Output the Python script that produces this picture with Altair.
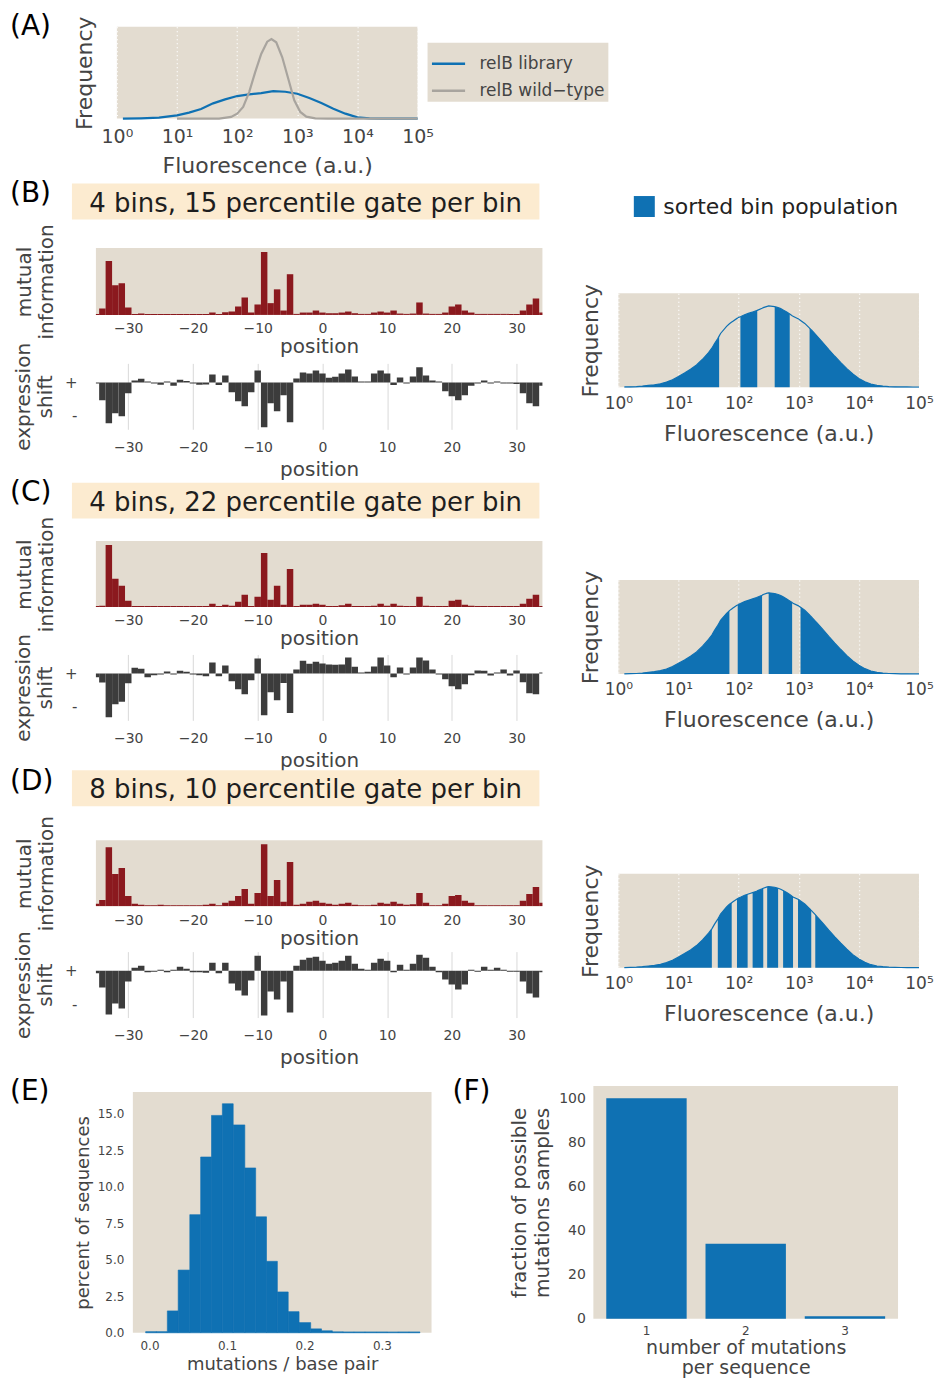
import altair as alt
import pandas as pd

FONT = "DejaVu Sans"
BG = "#E3DCD0"
BLUE = "#0F71B3"
RED = "#8B191E"
DARK = "#3C3C3C"
PEACH = "#FCEBD0"
WT = "#A8A49E"
TXT = "#444444"

# ---------------- data ----------------
# (A) fluorescence distributions, x = log10(fluorescence)
lib_lx = [0.1, 0.4, 0.7, 1.0, 1.2, 1.4, 1.6, 1.8, 2.0, 2.2, 2.4, 2.6, 2.8, 3.0, 3.2, 3.4, 3.6, 3.8, 4.0, 4.2, 4.4, 5.0]
lib_h = [0, 1, 3, 10, 18, 29, 46, 58, 68, 73, 77, 83, 81, 75, 62, 47, 30, 15, 4, 1, 0, 0]
wt_lx = [1.0, 1.7, 1.9, 2.0, 2.1, 2.2, 2.3, 2.4, 2.5, 2.57, 2.65, 2.75, 2.85, 2.95, 3.05, 3.15, 3.3, 3.5, 5.0]
wt_h = [0, 0, 5, 15, 35, 80, 140, 195, 232, 240, 230, 185, 120, 55, 20, 6, 1, 0, 0]
series_names = ["relB library", "relB wild\u2212type"]

# sorted library histogram (B-D), x = log10(fluorescence)
hist_lx = [0.1, 0.2, 0.3, 0.4, 0.5, 0.6, 0.7, 0.8, 0.9, 1.0, 1.1, 1.2, 1.3, 1.4, 1.5, 1.555, 1.6, 1.654,
           1.676, 1.7, 1.8, 1.847, 1.885, 1.9, 1.973, 1.985, 2.0, 2.03, 2.1, 2.15, 2.2, 2.233, 2.3, 2.31,
           2.39, 2.4, 2.41, 2.475, 2.5, 2.6, 2.657, 2.7, 2.74, 2.8, 2.85, 2.89, 2.9, 2.905, 2.988, 3.0,
           3.03, 3.1, 3.18, 3.2, 3.208, 3.275, 3.3, 3.4, 3.5, 3.6, 3.7, 3.8, 3.9, 4.0, 4.1, 4.2, 4.3,
           4.4, 4.5, 4.6, 4.7, 4.8, 4.9, 5.0]
hist_h = [0.5, 1, 1.5, 3, 5, 7, 10, 15, 22, 32, 42, 53, 66, 83, 103, 116, 130, 145,
          152, 160, 181, 189, 194, 196, 205, 206, 208, 210, 216, 219, 222, 224, 228, 229,
          235, 236, 237, 241, 242, 240, 237, 234, 230, 224, 218, 213, 212, 211, 204, 203,
          199, 190, 176, 172, 171, 158, 153, 133, 112, 92, 73, 55, 39, 26, 16, 9, 5,
          3, 1.5, 1, 0.6, 0.5, 0.4, 0.4]
assert len(hist_lx) == len(hist_h)

gates_b = [(0.1, 1.676), (2.03, 2.31), (2.6, 2.85), (3.18, 5.0)]
gates_c = [(0.1, 1.847), (1.985, 2.39), (2.5, 2.89), (3.03, 5.0)]
gates_d = [(0.1, 1.555), (1.654, 1.885), (1.973, 2.15), (2.233, 2.41), (2.475, 2.657),
           (2.74, 2.905), (2.988, 3.208), (3.275, 5.0)]

positions = list(range(-35, 35))
mi_b = [3, 19, 160, 88, 94, 22, 3, 4, 3, 3, 3, 3, 3, 3, 3, 3, 3, 3, 7, 3,
        8, 10, 25, 52, 7, 31, 187, 35, 76, 13, 121, 3, 7, 7, 13,
        7, 5, 5, 7, 10, 5, 3, 3, 7, 10, 7, 13, 4, 3, 4, 37, 4, 3, 3, 7,
        25, 31, 13, 7, 3, 3, 3, 3, 3, 3, 3, 13, 31, 49, 7]
mi_c = [3, 4, 187, 85, 64, 19, 3, 3, 3, 3, 3, 3, 3, 3, 3, 3, 3, 3, 10, 3,
        7, 4, 16, 37, 3, 31, 163, 22, 64, 7, 115, 3, 7, 7, 10,
        7, 3, 3, 5, 10, 3, 3, 3, 4, 10, 4, 10, 4, 3, 3, 31, 4, 3, 3, 3,
        19, 22, 7, 4, 3, 3, 3, 3, 3, 3, 3, 10, 25, 37, 3]
mi_d = [7, 19, 178, 97, 115, 31, 7, 4, 3, 3, 4, 3, 3, 3, 3, 3, 3, 4, 7, 3,
        10, 16, 31, 52, 7, 40, 187, 31, 79, 13, 133, 4, 7, 13, 16,
        10, 7, 4, 7, 10, 4, 3, 3, 4, 10, 7, 13, 7, 4, 6, 40, 10, 3, 3, 7,
        31, 34, 16, 10, 3, 3, 3, 3, 3, 3, 3, 16, 37, 58, 10]
exp_b = [-3, -53, -122, -92, -101, -32, 6, 11, 3, -3, -7, 3, -10, 8, 4, -3, -7, -6, 24, -8,
         21, -29, -56, -71, -29, 36, -134, -62, -86, -38, -119, 12, 30, 27, 36,
         27, 14, 17, 27, 39, 18, 3, 3, 27, 36, 27, -8, 15, -3, 18, 45, 21, 6, 3, -26,
         -41, -53, -38, -10, -3, 6, -3, 3, -3, -3, -5, -32, -62, -71, -10]
exp_c = [-11, -27, -131, -92, -84, -29, 17, 14, -11, -5, -3, 6, -3, 8, 5, -3, -5, -8, 33, -8,
         24, -23, -47, -62, -20, 45, -125, -56, -80, -28, -118, 12, 38, 29, 35,
         30, 27, 26, 27, 48, 20, 3, 5, 21, 48, 24, -11, 18, -3, 18, 48, 39, 12, -3, -17,
         -38, -47, -32, -5, 9, 8, -6, 3, 12, -6, 9, -26, -59, -62, 3]
exp_d = [-8, -50, -131, -98, -113, -32, 9, 15, -5, -3, 3, -5, 3, 12, 6, -5, -5, -6, 24, -8,
         24, -38, -59, -74, -29, 45, -134, -62, -86, -32, -125, 15, 33, 39, 42,
         30, 21, 24, 30, 45, 21, 6, 3, 24, 36, 30, -5, 18, 3, 21, 48, 39, 12, -5, -26,
         -41, -56, -41, 3, -3, 12, 3, 9, 3, -3, -3, -32, -68, -80, -5]

# (E) mutation rate histogram
e_edges = [-0.005, 0.009, 0.023, 0.037, 0.052, 0.066, 0.080, 0.094, 0.108, 0.123, 0.137, 0.151,
           0.165, 0.179, 0.193, 0.208, 0.222, 0.236, 0.250, 0.264, 0.278, 0.293, 0.307, 0.321,
           0.335, 0.349]
e_pct = [0.08, 0.08, 1.5, 4.3, 8.1, 12.05, 14.9, 15.7, 14.25, 11.3, 7.95, 4.9, 2.8, 1.45,
         0.7, 0.27, 0.14, 0.07, 0.06, 0.06, 0.06, 0.06, 0.06, 0.06, 0.06]

# (F) fraction of possible mutations sampled
f_n = ["1", "2", "3"]
f_frac = [100, 34, 1.2]

titles = ["4 bins, 15 percentile gate per bin", "4 bins, 22 percentile gate per bin",
          "8 bins, 10 percentile gate per bin"]

# ---------------- layout constants (spacings) ----------------
pA, sA, sE = 16, 3, 10.5
p2, pLR, pm = 1, 37, -60
t_vals = [3.5, -2.5, 9]
m_vals = [-14.5, -15.5, -17.5]
sBC, sCD = -0.6, -3.4
hTop, hBC, hCD = 98.8, 126, 133
pE, pEF, sEy = 16, 21, 5

SUP = "'10' + ['\u2070','\u00b9','\u00b2','\u00b3','\u2074','\u2075'][datum.value]"


def spacer(w, h):
    return alt.Chart(pd.DataFrame({"v": [0]})).mark_rect(opacity=0).encode(
        x=alt.value(0), x2=alt.value(1), y=alt.value(0), y2=alt.value(1)
    ).properties(width=w, height=h)


def label_text(text, x, y):
    return alt.Chart(pd.DataFrame({"t": [text]})).mark_text(
        font=FONT, fontSize=28, align="left", baseline="alphabetic", color="black"
    ).encode(x=alt.value(x), y=alt.value(y), text="t:N")


def log_axis(lsize, tsize, lp, tp):
    return alt.Axis(values=[0, 1, 2, 3, 4, 5], labelExpr=SUP, title="Fluorescence (a.u.)",
                    grid=True, gridColor="white", gridDash=[1, 3], gridWidth=1.3,
                    labelFontSize=lsize, labelPadding=lp, titleFontSize=tsize, titlePadding=tp)


def freq_axis(tp, tsize=22):
    return alt.Axis(title="Frequency", labels=False, grid=False, titleFontSize=tsize, titlePadding=tp)


def pos_axis(lp, tp, grid):
    return alt.Axis(values=[-30, -20, -10, 0, 10, 20, 30], title="position", labelFontSize=14,
                    titleFontSize=20, labelPadding=lp, titlePadding=tp, grid=grid,
                    gridColor="#D9D9D9", gridWidth=1)


# ---------------- (A) ----------------
a_df = pd.concat([
    pd.DataFrame({"lx": lib_lx, "h": lib_h, "series": series_names[0]}),
    pd.DataFrame({"lx": wt_lx, "h": wt_h, "series": series_names[1]}),
])
a_lines = alt.Chart(a_df).mark_line(strokeWidth=2.2).encode(
    x=alt.X("lx:Q", scale=alt.Scale(domain=[0, 5], nice=False, zero=False), axis=log_axis(19, 22, 9, 9)),
    y=alt.Y("h:Q", scale=alt.Scale(domain=[0, 277], nice=False), axis=freq_axis(20)),
    color=alt.Color("series:N",
                    scale=alt.Scale(domain=series_names, range=[BLUE, WT]),
                    legend=alt.Legend(orient="none", legendX=420, legendY=16, title=None, fillColor=BG,
                                      padding=3, symbolType="stroke", symbolSize=1100,
                                      symbolStrokeWidth=2.5, labelFontSize=17, labelColor=TXT,
                                      labelOffset=13, rowPadding=1, labelLimit=300)),
)
a_chart = a_lines.properties(width=301, height=92, view=alt.ViewBackground(fill=BG, stroke="transparent"))
labA = label_text("(A)", 2, 8).properties(width=50, height=1)
R1 = alt.hconcat(labA, a_chart, spacing=pA)


# ---------------- (B)-(D) ----------------
def title_chart(text, plabel, laby):
    txt = alt.Chart(pd.DataFrame({"t": [text]})).mark_text(
        font=FONT, fontSize=26, align="center", baseline="alphabetic", color="#1E1E1E"
    ).encode(x=alt.value(234), y=alt.value(28), text="t:N")
    return alt.layer(txt, label_text(plabel, -62, laby)).properties(
        width=468, height=36, view=alt.ViewBackground(fill=PEACH, stroke="transparent"))


def mi_chart(vals, h):
    df = pd.DataFrame({"pos": positions, "v": vals})
    return alt.Chart(df).transform_calculate(x0="datum.pos - 0.5", x1="datum.pos + 0.5").mark_bar(
        color=RED, clip=True).encode(
        x=alt.X("x0:Q", scale=alt.Scale(domain=[-35, 34], nice=False, zero=False), axis=pos_axis(7, 1, False)),
        x2="x1:Q",
        y=alt.Y("v:Q", scale=alt.Scale(domain=[0, 199], nice=False),
                axis=alt.Axis(title=["mutual", "information"], labels=False, grid=False,
                              titleFontSize=20, titlePadding=39, titleLineHeight=22)),
        y2=alt.datum(0),
    ).properties(width=447, height=h, view=alt.ViewBackground(fill=BG, stroke="transparent"))


def exp_chart(vals):
    df = pd.DataFrame({"pos": positions, "v": vals})
    return alt.Chart(df).transform_calculate(x0="datum.pos - 0.5", x1="datum.pos + 0.5").mark_bar(
        color=DARK, clip=True).encode(
        x=alt.X("x0:Q", scale=alt.Scale(domain=[-35, 34], nice=False, zero=False), axis=pos_axis(11, 5, True)),
        x2="x1:Q",
        y=alt.Y("v:Q", scale=alt.Scale(domain=[-140, 57], nice=False),
                axis=alt.Axis(values=[0, -100], labelExpr="datum.value >= 0 ? '+' : '-'", grid=False,
                              labelFontSize=15, labelPadding=19, labelBaseline="middle",
                              title=["expression", "shift"], titleFontSize=20, titlePadding=9,
                              titleLineHeight=22)),
        y2=alt.datum(0),
    ).properties(width=447, height=66, view=alt.ViewBackground(fill="transparent", stroke="transparent"))


def hist_chart(gates, with_legend):
    rows = []
    for gi, (lo, hi) in enumerate(gates):
        for lx, h in zip(hist_lx, hist_h):
            if lo - 1e-9 <= lx <= hi + 1e-9:
                rows.append({"lx": lx, "h": h, "gate": gi, "pop": "sorted bin population"})
    gdf = pd.DataFrame(rows)
    cdf = pd.DataFrame({"lx": hist_lx, "h": hist_h})
    x = alt.X("lx:Q", scale=alt.Scale(domain=[0, 5], nice=False, zero=False), axis=log_axis(17, 22, 8, 12))
    y = alt.Y("h:Q", scale=alt.Scale(domain=[0, 280], nice=False), axis=freq_axis(16), stack=None)
    if with_legend:
        area = alt.Chart(gdf).mark_area(opacity=1).encode(
            x=x, y=y, detail="gate:N",
            fill=alt.Fill("pop:N", scale=alt.Scale(range=[BLUE]),
                          legend=alt.Legend(orient="none", legendX=626, legendY=169, title=None,
                                            symbolType="square", symbolSize=441, symbolStrokeWidth=0,
                                            symbolOpacity=1, labelFontSize=22, labelColor="#222222",
                                            labelOffset=8, padding=0, labelLimit=400)))
    else:
        area = alt.Chart(gdf).mark_area(color=BLUE, opacity=1).encode(x=x, y=y, detail="gate:N")
    line = alt.Chart(cdf).mark_line(color=BLUE, strokeWidth=1.2).encode(x="lx:Q", y="h:Q")
    return alt.layer(area, line).properties(width=301, height=94,
                                            view=alt.ViewBackground(fill=BG, stroke="transparent"))


panels = []
for i, (tt, pl, ly, mi, ex) in enumerate(zip(titles, ["(B)", "(C)", "(D)"], [18, 18, 20],
                                              [mi_b, mi_c, mi_d], [exp_b, exp_c, exp_d])):
    miexp = alt.hconcat(spacer(1, 1),
                        alt.vconcat(mi_chart(mi, 67 if i == 0 else 66), exp_chart(ex), spacing=m_vals[i]),
                        spacing=pm)
    panels.append(alt.vconcat(title_chart(tt, pl, ly), miexp, spacing=t_vals[i]))

left_col = alt.vconcat(panels[0], alt.vconcat(panels[1], panels[2], spacing=sCD), spacing=sBC)
right_col = alt.vconcat(
    alt.vconcat(spacer(1, 1), hist_chart(gates_b, True), spacing=hTop),
    alt.vconcat(hist_chart(gates_c, False), hist_chart(gates_d, False), spacing=hCD),
    spacing=hBC)
R2 = alt.hconcat(spacer(1, 1), alt.hconcat(left_col, right_col, spacing=pLR), spacing=p2)

# ---------------- (E) & (F) ----------------
e_df = pd.DataFrame({"lo": e_edges[:-1], "hi": e_edges[1:], "pct": e_pct})
e_chart = alt.Chart(e_df).mark_bar(color=BLUE, stroke=BLUE, strokeWidth=0.6).encode(
    x=alt.X("lo:Q", scale=alt.Scale(domain=[-0.0215, 0.364], nice=False, zero=False),
            axis=alt.Axis(values=[0, 0.1, 0.2, 0.3], format=".1f", grid=False, labelFontSize=12,
                          labelPadding=8, title="mutations / base pair", titleFontSize=18, titlePadding=4)),
    x2="hi:Q",
    y=alt.Y("pct:Q", scale=alt.Scale(domain=[0, 16.5], nice=False),
            axis=alt.Axis(values=[0, 2.5, 5, 7.5, 10, 12.5, 15], format=".1f", grid=False,
                          labelFontSize=12, labelPadding=9, title="percent of sequences",
                          titleFontSize=18, titlePadding=5)),
    y2=alt.datum(0),
).properties(width=299, height=241, view=alt.ViewBackground(fill=BG, stroke="transparent"))

f_df = pd.DataFrame({"n": f_n, "frac": f_frac})
f_bars = alt.Chart(f_df).mark_bar(color=BLUE).encode(
    x=alt.X("n:O", scale=alt.Scale(paddingInner=0.19, paddingOuter=0.13),
            axis=alt.Axis(labelAngle=0, grid=False, labelFontSize=12, labelPadding=7,
                          title=["number of mutations", "per sequence"], titleFontSize=19,
                          titlePadding=2, titleLineHeight=20)),
    y=alt.Y("frac:Q", scale=alt.Scale(domain=[0, 105.5], nice=False),
            axis=alt.Axis(values=[0, 20, 40, 60, 80, 100], grid=False, labelFontSize=14, labelPadding=8,
                          title=["fraction of possible", "mutations samples"], titleFontSize=20,
                          titlePadding=6, titleLineHeight=23)),
)
f_chart = alt.layer(f_bars, label_text("(F)", -141, 14)).properties(
    width=305, height=233, view=alt.ViewBackground(fill=BG, stroke="transparent"))

labE = label_text("(E)", 2, 14).properties(width=50, height=1)
R3 = alt.hconcat(labE, alt.hconcat(alt.vconcat(spacer(1, 1), e_chart, spacing=sEy), f_chart, spacing=pEF),
                 spacing=pE)

chart = alt.vconcat(alt.vconcat(R1, R2, spacing=sA), R3, spacing=sE).properties(
    padding={"left": 0, "top": 4, "right": 0, "bottom": 0}
).configure(font=FONT).configure_view(strokeWidth=0).configure_axis(
    labelFont=FONT, titleFont=FONT, labelColor=TXT, titleColor=TXT, titleFontWeight="normal",
    ticks=False, domain=False, labelFlush=False, labelOverlap=False
).configure_legend(labelFont=FONT)

chart.save("out.html", embed_options={"renderer": "svg", "actions": False})
